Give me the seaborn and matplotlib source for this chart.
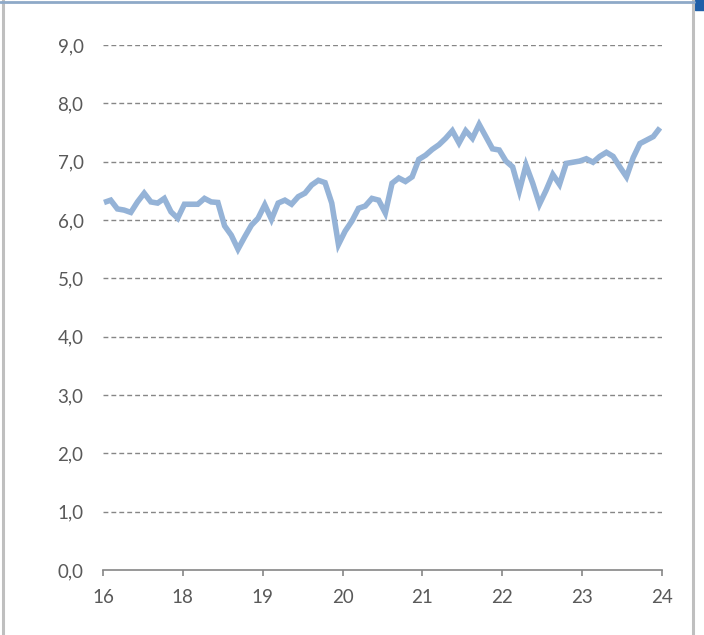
import numpy as np
import pandas as pd
import matplotlib
matplotlib.use("Agg")
import matplotlib.pyplot as plt
from matplotlib.ticker import FuncFormatter
from matplotlib.patches import Rectangle
from matplotlib.lines import Line2D
import seaborn as sns

# values, one per period
values = [6.30, 6.34, 6.19, 6.17, 6.13, 6.31, 6.46, 6.31, 6.29, 6.37,
          6.14, 6.03, 6.27, 6.27, 6.27, 6.37, 6.31, 6.30, 5.90, 5.74,
          5.50, 5.71, 5.91, 6.03, 6.26, 6.01, 6.29, 6.34, 6.27, 6.40,
          6.46, 6.60, 6.68, 6.64, 6.29, 5.58, 5.81, 5.98, 6.20, 6.24,
          6.37, 6.34, 6.12, 6.63, 6.72, 6.66, 6.74, 7.04, 7.11, 7.21,
          7.29, 7.40, 7.53, 7.32, 7.53, 7.40, 7.64, 7.43, 7.22, 7.20,
          7.01, 6.91, 6.50, 6.94, 6.63, 6.27, 6.51, 6.78, 6.61, 6.97,
          6.99, 7.01, 7.05, 6.99, 7.09, 7.16, 7.09, 6.91, 6.74, 7.07,
          7.31, 7.37, 7.43, 7.58]
tick_labels = ["16", "18", "19", "20", "21", "22", "23", "24"]
y_ticks = [0, 1, 2, 3, 4, 5, 6, 7, 8, 9]

df = pd.DataFrame({"period": np.arange(len(values)), "value": values})

sns.set_style("white")
plt.rcParams["font.family"] = ["Lato", "DejaVu Sans"]

fig = plt.figure(figsize=(7.04, 6.35), dpi=100)
ax = fig.add_axes([103 / 704, 65 / 635, 559 / 704, 525 / 635])

sns.lineplot(data=df, x="period", y="value", ax=ax, color="#95B3D7",
             linewidth=4.0, solid_joinstyle="miter", solid_capstyle="butt")

last = len(values) - 1
ax.set_xlim(-0.15, last + 0.3)
ax.set_ylim(0, 9)
ax.set_xticks(np.linspace(-0.15, last + 0.3, len(tick_labels)))
ax.set_xticklabels(tick_labels)
ax.set_yticks(y_ticks)
ax.yaxis.set_major_formatter(FuncFormatter(lambda v, p: f"{v:.1f}".replace(".", ",")))
ax.set_xlabel("")
ax.set_ylabel("")

for v in y_ticks[1:]:
    ax.axhline(v, color="#868686", linewidth=1.0, linestyle=(0, (3.5, 2.2)), zorder=0)

for s in ["top", "right", "left"]:
    ax.spines[s].set_visible(False)
ax.spines["bottom"].set_color("#868686")
ax.spines["bottom"].set_linewidth(1.2)

ax.tick_params(axis="y", length=0, pad=14, labelsize=13.5, labelcolor="#595959")
ax.tick_params(axis="x", length=4, width=1.2, color="#868686", pad=10,
               labelsize=13.5, labelcolor="#595959", bottom=True, direction="out")

# outer frame of the chart
fig.add_artist(Line2D([2.5 / 704, 2.5 / 704], [0, 1], color="#BFBFBF", linewidth=2.2))
fig.add_artist(Line2D([693 / 704, 693 / 704], [0, 1], color="#BFBFBF", linewidth=2.2))
fig.add_artist(Line2D([0, 694 / 704], [633 / 635, 633 / 635], color="#8EA9C8", linewidth=2.0))
fig.add_artist(Rectangle((695 / 704, 625 / 635), 9 / 704, 10 / 635,
                         transform=fig.transFigure, color="#1F5FA8"))

fig.savefig("out.png", dpi=100)
